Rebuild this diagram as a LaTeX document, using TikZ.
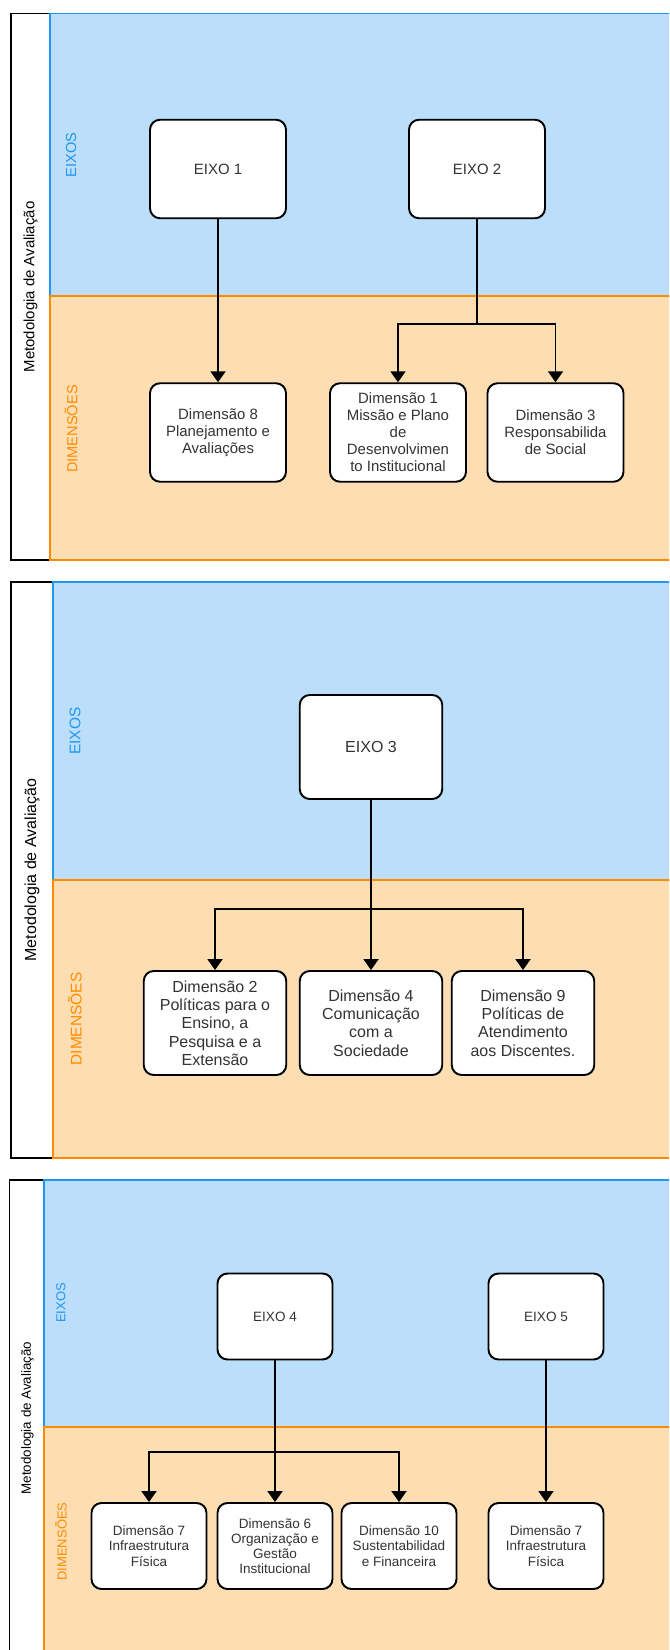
\documentclass[tikz,border=0pt]{standalone}
\usepackage{fontspec}
\setmainfont{Liberation Sans}
\usepackage{tikz}
\usetikzlibrary{arrows.meta}

\definecolor{eixofundo}{HTML}{BBDEFA}
\definecolor{eixolinha}{HTML}{2196F3}
\definecolor{dimfundo}{HTML}{FDDEB3}
\definecolor{dimlinha}{HTML}{FF8C00}
\definecolor{texto}{HTML}{333333}

\begin{document}
\begin{tikzpicture}[
		caixa/.style={draw=black, line width=1.1pt, fill=white, rounded corners=0.2cm, align=center, inner sep=0pt, text=texto},
		pA/.style={caixa, minimum width=2.72cm, minimum height=1.97cm, font=\fontsize{8.5}{9.7}\selectfont},
		pB/.style={caixa, minimum width=2.85cm, minimum height=2.08cm, font=\fontsize{9.1}{10.4}\selectfont},
		pC/.style={caixa, minimum width=2.3cm, minimum height=1.72cm, font=\fontsize{7.7}{8.65}\selectfont},
		faixa/.style={line width=1.1pt},
		seta/.style={-{Triangle[length=2.2mm,width=3mm]}, line width=1.1pt},
		linha/.style={line width=1.1pt}
	]
		\useasboundingbox (0,0) rectangle (13.38cm,-33cm);
		\clip (0,0) rectangle (13.38cm,-33cm);
		
		% painel 1
		\draw[faixa, draw=black] (0.214cm,-0.27cm) rectangle (1cm,-11.2cm);
		\draw[faixa, draw=eixolinha, fill=eixofundo] (1cm,-0.27cm) rectangle (13.6cm,-5.92cm);
		\draw[faixa, draw=dimlinha, fill=dimfundo] (1cm,-5.92cm) rectangle (13.6cm,-11.2cm);
		
		\node[rotate=90, font=\fontsize{8.5}{9.7}\selectfont] (metodoA) at (0.61cm,-5.74cm) {Metodologia de Avaliação};
		\node[rotate=90, text=eixolinha, font=\fontsize{8.3}{9.7}\selectfont] (eixosA) at (1.42cm,-3.1cm) {EIXOS};
		\node[rotate=90, text=dimlinha, font=\fontsize{8.3}{9.7}\selectfont] (dimsA) at (1.42cm,-8.58cm) {DIMENSÕES};
		
		\node[pA] (eixo1) at (4.36cm,-3.38cm) {EIXO 1};
		\node[pA] (eixo2) at (9.54cm,-3.38cm) {EIXO 2};
		\node[pA] (dim8) at (4.36cm,-8.65cm) {Dimensão 8\\Planejamento e\\Avaliações};
		\node[pA] (dim1) at (7.96cm,-8.65cm) {Dimensão 1\\Missão e Plano\\de\\Desenvolvimen\\to Institucional};
		\node[pA] (dim3) at (11.11cm,-8.65cm) {Dimensão 3\\Responsabilida\\de Social};
		\coordinate (ramoA) at (9.54cm,-6.48cm);
		
		\draw[seta] (eixo1) -- (dim8);
		\draw[linha] (eixo2) -- (ramoA);
		\draw[seta] (ramoA) -| (dim1);
		\draw[seta] (ramoA) -| (dim3);
		
		% painel 2
		\draw[faixa, draw=black] (0.22cm,-11.64cm) rectangle (1.06cm,-23.16cm);
		\draw[faixa, draw=eixolinha, fill=eixofundo] (1.06cm,-11.64cm) rectangle (13.6cm,-17.6cm);
		\draw[faixa, draw=dimlinha, fill=dimfundo] (1.06cm,-17.6cm) rectangle (13.6cm,-23.16cm);
		
		\node[rotate=90, font=\fontsize{9.1}{10.4}\selectfont] (metodoB) at (0.64cm,-17.4cm) {Metodologia de Avaliação};
		\node[rotate=90, text=eixolinha, font=\fontsize{8.8}{10.4}\selectfont] (eixosB) at (1.5cm,-14.62cm) {EIXOS};
		\node[rotate=90, text=dimlinha, font=\fontsize{8.8}{10.4}\selectfont] (dimsB) at (1.5cm,-20.38cm) {DIMENSÕES};
		
		\node[pB] (eixo3) at (7.42cm,-14.94cm) {EIXO 3};
		\node[pB] (dim2) at (4.3cm,-20.46cm) {Dimensão 2\\Políticas para o\\Ensino, a\\Pesquisa e a\\Extensão};
		\node[pB] (dim4) at (7.42cm,-20.46cm) {Dimensão 4\\Comunicação\\com a\\Sociedade};
		\node[pB] (dim9) at (10.46cm,-20.46cm) {Dimensão 9\\Políticas de\\Atendimento\\aos Discentes.};
		\coordinate (ramoB) at (7.42cm,-18.18cm);
		
		\draw[seta] (eixo3) -- (dim4);
		\draw[seta] (ramoB) -| (dim2);
		\draw[seta] (ramoB) -| (dim9);
		
		% painel 3
		\draw[faixa, draw=black] (0.19cm,-23.6cm) rectangle (0.88cm,-33.2cm);
		\draw[faixa, draw=eixolinha, fill=eixofundo] (0.88cm,-23.6cm) rectangle (13.6cm,-28.54cm);
		\draw[faixa, draw=dimlinha, fill=dimfundo] (0.88cm,-28.54cm) rectangle (13.6cm,-33.2cm);
		
		\node[rotate=90, font=\fontsize{7.6}{8.65}\selectfont] (metodoC) at (0.55cm,-28.36cm) {Metodologia de Avaliação};
		\node[rotate=90, text=eixolinha, font=\fontsize{7.4}{8.65}\selectfont] (eixosC) at (1.22cm,-26.06cm) {EIXOS};
		\node[rotate=90, text=dimlinha, font=\fontsize{7.4}{8.65}\selectfont] (dimsC) at (1.22cm,-30.83cm) {DIMENSÕES};
		
		\node[pC] (eixo4) at (5.5cm,-26.33cm) {EIXO 4};
		\node[pC] (eixo5) at (10.92cm,-26.33cm) {EIXO 5};
		\node[pC] (dim7) at (2.98cm,-30.92cm) {Dimensão 7\\Infraestrutura\\Física};
		\node[pC] (dim6) at (5.5cm,-30.92cm) {Dimensão 6\\Organização e\\Gestão\\Institucional};
		\node[pC] (dim10) at (7.98cm,-30.92cm) {Dimensão 10\\Sustentabilidad\\e Financeira};
		\node[pC] (dim7b) at (10.92cm,-30.92cm) {Dimensão 7\\Infraestrutura\\Física};
		\coordinate (ramoC) at (5.5cm,-29.04cm);
		
		\draw[seta] (eixo4) -- (dim6);
		\draw[seta] (ramoC) -| (dim7);
		\draw[seta] (ramoC) -| (dim10);
		\draw[seta] (eixo5) -- (dim7b);
	\end{tikzpicture}
\end{document}
